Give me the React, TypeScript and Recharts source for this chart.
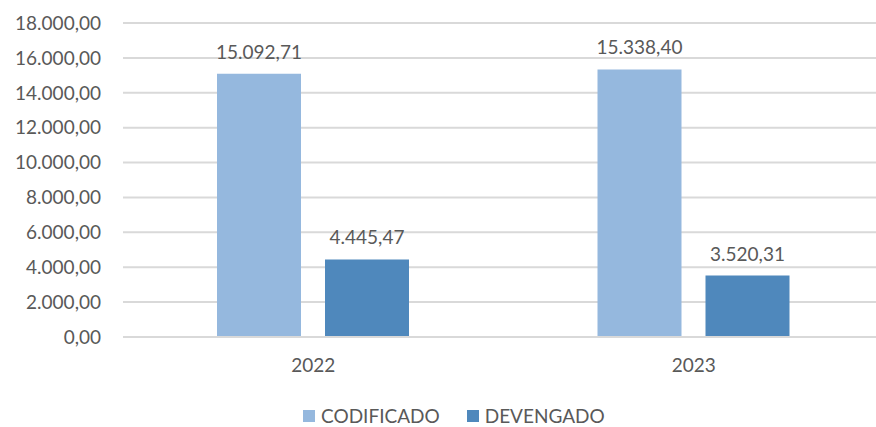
import React from 'react';
import { BarChart, Bar, XAxis, YAxis, CartesianGrid, LabelList, Legend } from 'recharts';

const years = ['2022', '2023'];
const codificado = [15092.71, 15338.4];
const devengado = [4445.47, 3520.31];
const yTicks = [0, 2000, 4000, 6000, 8000, 10000, 12000, 14000, 16000, 18000];

const data = years.map((y, i) => ({ year: y, CODIFICADO: codificado[i], DEVENGADO: devengado[i] }));

const fmt = (v: any) => {
  const n = Number(v);
  const [int, dec] = n.toFixed(2).split('.');
  const grouped = int.replace(/\B(?=(\d{3})+(?!\d))/g, '.');
  return `${grouped},${dec}`;
};

const FONT = 'Lato, "Open Sans", sans-serif';
const TEXT = '#595959';
const C1 = '#95b8de';
const C2 = '#4f88bc';

const LegendContent = () => (
  <div style={{ display: 'flex', alignItems: 'center', fontFamily: FONT, fontSize: 19, color: TEXT, lineHeight: '22px', height: 22, whiteSpace: 'nowrap' }}>
    <span style={{ width: 12, height: 12, background: C1, display: 'inline-block', marginRight: 6 }} />
    <span style={{ marginRight: 27 }}>CODIFICADO</span>
    <span style={{ width: 12, height: 12, background: C2, display: 'inline-block', marginRight: 6 }} />
    <span>DEVENGADO</span>
  </div>
);

export default function App() {
  return (
    <div style={{ position: 'absolute', left: 0, top: 0, width: 876, height: 427, overflow: 'hidden', background: '#fff' }}>
      <BarChart
        width={884}
        height={427}
        data={data}
        margin={{ top: 23, right: 0, left: 0, bottom: 40 }}
        barSize={84}
        barGap={24}
      >
        <CartesianGrid vertical={false} stroke="#d9d9d9" strokeWidth={2} />
        <XAxis
          dataKey="year"
          axisLine={{ stroke: '#d9d9d9', strokeWidth: 2 }}
          tickLine={false}
          tickSize={0}
          tickMargin={22}
          height={50}
          tick={{ fill: TEXT, fontSize: 19, fontFamily: FONT }}
        />
        <YAxis
          width={123}
          domain={[0, 18000]}
          ticks={yTicks}
          interval={0}
          axisLine={false}
          tickLine={false}
          tickSize={0}
          tickMargin={22}
          tickFormatter={fmt}
          tick={{ fill: TEXT, fontSize: 19, fontFamily: FONT }}
        />
        <Legend
          verticalAlign="middle"
          align="center"
          layout="horizontal"
          content={<LegendContent />}
          wrapperStyle={{ top: 405, left: 303, width: 360, height: 22 }}
        />
        <Bar dataKey="CODIFICADO" fill={C1} isAnimationActive={false}>
          <LabelList dataKey="CODIFICADO" position="top" offset={15} formatter={fmt} fill={TEXT} fontSize={19} fontFamily={FONT} />
        </Bar>
        <Bar dataKey="DEVENGADO" fill={C2} isAnimationActive={false}>
          <LabelList dataKey="DEVENGADO" position="top" offset={15} formatter={fmt} fill={TEXT} fontSize={19} fontFamily={FONT} />
        </Bar>
      </BarChart>
    </div>
  );
}
